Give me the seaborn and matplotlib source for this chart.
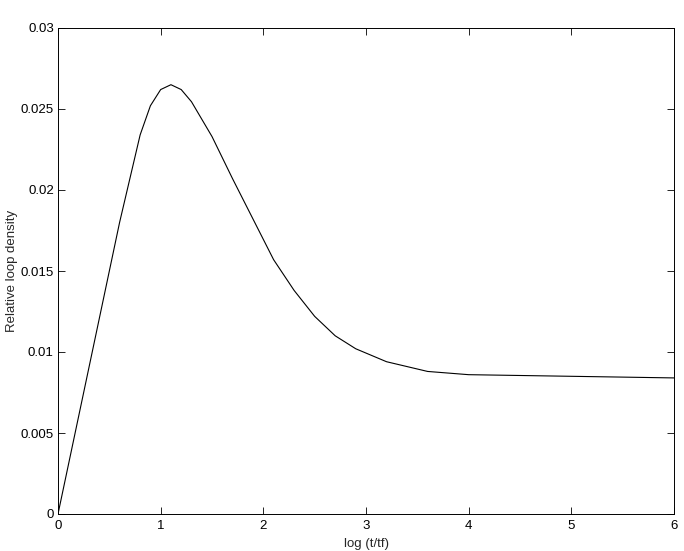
import numpy as np
import pandas as pd
import matplotlib
matplotlib.use("Agg")
import matplotlib.pyplot as plt
import matplotlib.ticker as mticker
import seaborn as sns

# Werte
log_t = [0.0, 0.1, 0.2, 0.3, 0.4, 0.5, 0.6, 0.7, 0.8, 0.9, 1.0, 1.1, 1.2, 1.3,
         1.5, 1.7, 1.9, 2.1, 2.3, 2.5, 2.7, 2.9, 3.2, 3.6, 4.0, 5.0, 6.0]
loop_density = [0.0, 0.003, 0.006, 0.009, 0.012, 0.015, 0.018, 0.0207, 0.0234,
                0.0252, 0.0262, 0.0265, 0.0262, 0.02545,
                0.0233, 0.0207, 0.0182, 0.0157, 0.0138, 0.0122, 0.0110, 0.0102,
                0.0094, 0.0088, 0.0086, 0.0085, 0.0084]

x_ticks = [0, 1, 2, 3, 4, 5, 6]
y_ticks = [0, 0.005, 0.01, 0.015, 0.02, 0.025, 0.03]

df = pd.DataFrame({"log_t": log_t, "density": loop_density})

sns.set_style("ticks")
plt.rcParams["font.family"] = ["Liberation Sans", "DejaVu Sans"]
plt.rcParams["font.size"] = 9.5

fig = plt.figure(figsize=(6.84, 5.51), dpi=100)
ax = fig.add_axes([58 / 684, 37 / 551, 616 / 684, 486 / 551])

sns.lineplot(data=df, x="log_t", y="density", color="black", linewidth=0.8, ax=ax)

ax.set_xlim(0, 6)
ax.set_ylim(0, 0.03)
ax.set_xticks(x_ticks)
ax.set_yticks(y_ticks)
ax.yaxis.set_major_formatter(mticker.FuncFormatter(lambda v, p: f"{v:g}"))
ax.tick_params(direction="in", length=5, width=0.6, top=True, right=True,
               labelsize=9.5, colors="black", pad=3)
ax.tick_params(axis="x", pad=4)
for side in ["top", "right", "bottom", "left"]:
    ax.spines[side].set_visible(True)
    ax.spines[side].set_linewidth(0.7)
    ax.spines[side].set_color("black")

ax.set_xlabel("log (t/tf)", fontsize=9.5, labelpad=5)
ax.set_ylabel("Relative loop density", fontsize=9.5, labelpad=2)

fig.savefig("out.png", dpi=100)
